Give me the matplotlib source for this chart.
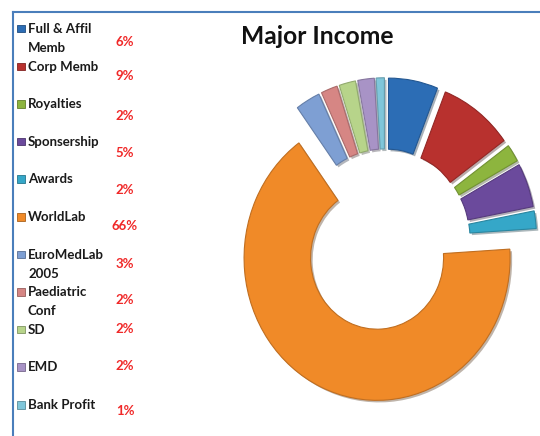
import matplotlib
matplotlib.use("Agg")
import matplotlib.pyplot as plt
import matplotlib.patheffects as pe
from matplotlib.patches import Rectangle
import numpy as np

labels = ["Full & Affil\nMemb", "Corp Memb", "Royalties", "Sponsership", "Awards",
          "WorldLab", "EuroMedLab\n2005", "Paediatric\nConf", "SD", "EMD", "Bank Profit"]
shares = [6, 9, 2, 5, 2, 66, 3, 2, 2, 2, 1]
colors = ["#2C6DB5", "#B8312E", "#8DB53E", "#6B4A9C", "#35A7C8", "#F08A28",
          "#7E9FD3", "#D68684", "#B7D48A", "#A893C6", "#7FC6DA"]

W, H = 540, 436
plt.rcParams['font.family'] = ['Lato', 'DejaVu Sans']
fig = plt.figure(figsize=(W / 100, H / 100), dpi=100)

def px(x, y):
    return x / W, 1 - y / H

# donut, drawn in pixel-like units (slightly stretched vertically)
stretch = 1.07
cx, cy = 385, 240
R = 133
ax = fig.add_axes([0, 0, 1, 1])
wedges, _ = ax.pie(shares, colors=colors, startangle=90, counterclock=False,
                   radius=R, center=(cx, (H - cy) / stretch),
                   explode=[0.14 * R] * len(shares),
                   wedgeprops=dict(width=R * 0.5))
for w in wedges:
    fc = np.array(matplotlib.colors.to_rgb(w.get_facecolor()))
    w.set_edgecolor(fc * 0.8)
    w.set_linewidth(0.8)
    w.set_path_effects([pe.SimplePatchShadow(offset=(1.5, -1.5), alpha=0.35), pe.Normal()])
ax.set_aspect('auto')
ax.set_xlim(0, W)
ax.set_ylim(0, H / stretch)
ax.axis('off')

# chart border (top and left visible)
fig.add_artist(plt.Line2D([13 / W, 1], [1 - 12 / H, 1 - 12 / H], color="#4A7EBB", lw=1.5,
                          transform=fig.transFigure))
fig.add_artist(plt.Line2D([13 / W, 13 / W], [1 - 12 / H, 0], color="#4A7EBB", lw=1.5,
                          transform=fig.transFigure))

fig.text(*px(317, 37), "Major Income", fontsize=17.7, fontweight='bold', color="#111111",
         ha='center', va='center')

# legend with percentages
step = 37.6
pct_y = [42, 76, 116, 153, 190, 226, 264, 300, 329, 366, 411]
for i, (lab, val, col) in enumerate(zip(labels, shares, colors)):
    y = 29 + i * step
    fc = np.array(matplotlib.colors.to_rgb(col))
    sq = Rectangle(px(17, y + 3.5), 7.5 / W, 7.5 / H, transform=fig.transFigure,
                   facecolor=col, edgecolor=fc * 0.7, lw=0.6)
    fig.add_artist(sq)
    for k, line in enumerate(lab.split("\n")):
        fig.text(*px(28, y + k * 19), line, fontsize=9.5, fontweight='bold',
                 color="#1a1a1a", ha='left', va='center')
    fig.text(*px(125, pct_y[i]), f"{val}%", fontsize=9.5, fontweight='bold',
             color="#F02828", ha='center', va='center')

fig.savefig("out.png", dpi=100)
